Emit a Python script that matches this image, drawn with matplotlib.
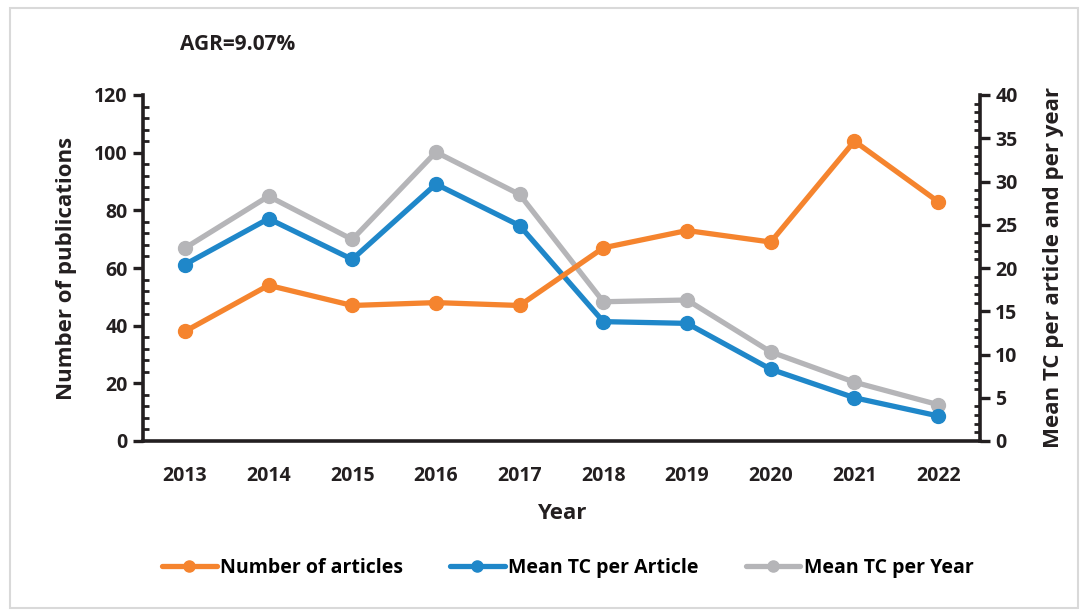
import matplotlib.pyplot as plt
import numpy as np
from matplotlib.patches import Rectangle
from matplotlib.ticker import MultipleLocator

plt.rcParams['font.family'] = ['Open Sans', 'DejaVu Sans']
plt.rcParams['font.weight'] = 'bold'

# Данные
years = ['2013', '2014', '2015', '2016', '2017', '2018', '2019', '2020', '2021', '2022']
articles = [38, 54, 47, 48, 47, 67, 73, 69, 104, 83]
tc_per_article = [20.4, 25.7, 21.0, 29.7, 24.9, 13.8, 13.6, 8.3, 5.0, 2.9]
tc_per_year = [22.3, 28.3, 23.3, 33.4, 28.5, 16.1, 16.3, 10.3, 6.8, 4.2]

c_orange = '#F5842E'
c_blue = '#1F87C9'
c_gray = '#B5B5B8'
ink = '#231F20'

fig = plt.figure(figsize=(10.88, 6.16), dpi=100)
fig.patches.append(Rectangle((10 / 1088, 8 / 616), 1068 / 1088, 600 / 616,
                             transform=fig.transFigure, fill=False,
                             edgecolor='#D9D9D9', linewidth=1.5))

ax = fig.add_axes([143 / 1088, 1 - 441 / 616, 837 / 1088, 346 / 616])
ax2 = ax.twinx()

x = np.arange(len(years))
kw = dict(linewidth=3.8, marker='o', markersize=10, solid_capstyle='round')
l1, = ax.plot(x, articles, color=c_orange, label='Number of articles', **kw)
l3, = ax2.plot(x, tc_per_year, color=c_gray, label='Mean TC per Year', **kw)
l2, = ax2.plot(x, tc_per_article, color=c_blue, label='Mean TC per Article', **kw)
ax.set_zorder(ax2.get_zorder() + 1)
ax.patch.set_visible(False)

ax.set_xlim(-0.5, len(years) - 0.5)
ax.set_ylim(0, 120)
ax2.set_ylim(0, 40)
ax.set_xticks(x)
ax.set_xticklabels(years)
ax.yaxis.set_major_locator(MultipleLocator(20))
ax.yaxis.set_minor_locator(MultipleLocator(4))
ax2.yaxis.set_major_locator(MultipleLocator(5))
ax2.yaxis.set_minor_locator(MultipleLocator(1))

for a in (ax, ax2):
    for s in a.spines.values():
        s.set_visible(False)
ax.spines['left'].set_visible(True)
ax.spines['bottom'].set_visible(True)
ax2.spines['right'].set_visible(True)
for s in (ax.spines['left'], ax.spines['bottom'], ax2.spines['right']):
    s.set_linewidth(2.6)
    s.set_color(ink)

ax.tick_params(axis='x', length=0, pad=18, labelsize=14, colors=ink)
ax.tick_params(axis='y', which='major', direction='out', length=7, width=2.4,
               labelsize=14, colors=ink, pad=4)
ax.tick_params(axis='y', which='minor', direction='in', length=4, width=2, colors=ink)
ax2.tick_params(axis='y', which='major', direction='out', length=7, width=2.4,
                labelsize=14, colors=ink, pad=4)
ax2.tick_params(axis='y', which='minor', direction='in', length=4, width=2, colors=ink)

ax.set_xlabel('Year', fontsize=16, fontweight='bold', color=ink, labelpad=12)
ax.set_ylabel('Number of publications', fontsize=16, fontweight='bold', color=ink, labelpad=12)
ax2.set_ylabel('Mean TC per article and per year', fontsize=16, fontweight='bold',
               color=ink, labelpad=18)

fig.text(180 / 1088, 1 - 45 / 616, 'AGR=9.07%', fontsize=15, fontweight='bold',
         color=ink, va='center')

fig.legend(handles=[l1, l2, l3], loc='center', bbox_to_anchor=(0.522, 1 - 568 / 616),
           ncol=3, frameon=False, fontsize=14, handlelength=2.8, columnspacing=2.4,
           handletextpad=0.2, markerscale=0.8)

fig.savefig('out.png', dpi=100)
